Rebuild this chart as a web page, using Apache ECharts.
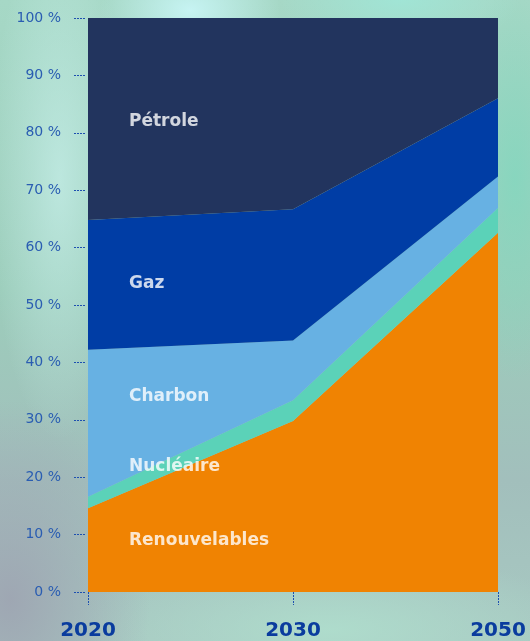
<!DOCTYPE html>
<html>
<head>
<meta charset="utf-8">
<script src="https://cdn.jsdelivr.net/npm/echarts@6/dist/echarts.min.js"></script>
<style>
  html, body { margin: 0; padding: 0; }
  body {
    width: 530px; height: 641px; overflow: hidden;
    background:
      radial-gradient(ellipse 90px 60px at 190px 10px, rgba(200,245,245,0.95), rgba(200,245,245,0) 100%),
      radial-gradient(ellipse 120px 50px at 400px 0px, rgba(160,230,215,0.9), rgba(160,230,215,0) 100%),
      radial-gradient(ellipse 70px 260px at 60px 180px, rgba(200,240,235,0.7), rgba(200,240,235,0) 100%),
      radial-gradient(ellipse 140px 200px at 10px 600px, rgba(158,165,178,0.95), rgba(158,165,178,0) 100%),
      radial-gradient(ellipse 60px 200px at 515px 180px, rgba(130,215,190,0.8), rgba(130,215,190,0) 100%),
      radial-gradient(ellipse 260px 80px at 330px 630px, rgba(175,222,205,0.9), rgba(175,222,205,0) 100%),
      linear-gradient(180deg, #a6d8c6 0%, #9ccdbb 45%, #a2bfbc 75%, #a8c9c2 100%);
  }
  #chart { width: 530px; height: 641px; }
</style>
</head>
<body>
<div id="chart"></div>
<script>
// Energy mix shares (%), stacked from the bottom up
const years = ['2020', '2030', '2050'];
const renouvelables = [14.6, 29.8, 62.6];
const nucleaire = [2.0, 3.6, 4.3];
const charbon = [25.6, 10.4, 5.5];
const gaz = [22.6, 22.9, 13.6];
const petrole = [35.2, 33.3, 14.0];

// Name tags inside each band, anchored at the first year
const bandNames = ['Renouvelables', 'Nucléaire', 'Charbon', 'Gaz', 'Pétrole'];
const bandNameLevels = [9, 21.8, 34, 53.8, 82];

const yTicks = [0, 10, 20, 30, 40, 50, 60, 70, 80, 90, 100];

const font = "'DejaVu Sans', sans-serif";

function band(name, data, color) {
  return {
    name: name,
    type: 'line',
    stack: 'mix',
    data: data,
    symbol: 'none',
    lineStyle: { width: 0 },
    areaStyle: { color: color, opacity: 1 },
    emphasis: { disabled: true },
    z: 2
  };
}

const chart = echarts.init(document.getElementById('chart'), null, { renderer: 'canvas' });

chart.setOption({
  backgroundColor: 'transparent',
  animation: false,
  grid: { left: 88, right: 32, top: 18, bottom: 49, containLabel: false },
  xAxis: {
    type: 'category',
    data: years,
    boundaryGap: false,
    offset: 5,
    axisLine: { show: false },
    axisTick: {
      show: true, length: 13, alignWithLabel: true,
      lineStyle: { color: '#1d4fb0', type: [2, 1], width: 1 }
    },
    axisLabel: {
      margin: 24, color: '#0a3c9e', fontFamily: font, fontWeight: 'bold', fontSize: 20
    },
    splitLine: { show: false }
  },
  yAxis: {
    type: 'value',
    min: 0, max: 100, interval: 10,
    offset: 3,
    axisLine: { show: false },
    axisTick: {
      show: true, length: 11,
      lineStyle: { color: '#1d4fb0', type: [2, 1], width: 1 }
    },
    axisLabel: {
      margin: 24, color: '#2a5db2', fontFamily: font, fontSize: 14,
      customValues: yTicks,
      formatter: v => v + ' %'
    },
    splitLine: { show: false }
  },
  series: [
    band('Renouvelables', renouvelables, '#f08302'),
    band('Nucléaire', nucleaire, '#5bd2b8'),
    band('Charbon', charbon, '#67b1e3'),
    band('Gaz', gaz, '#003da5'),
    band('Pétrole', petrole, '#22345e'),
    {
      name: 'noms',
      type: 'scatter',
      symbolSize: 0,
      silent: true,
      z: 5,
      data: bandNames.map((n, i) => ({ value: [0, bandNameLevels[i]], name: n })),
      label: {
        show: true,
        position: 'right',
        distance: 41,
        formatter: p => p.name,
        color: '#ffffff',
        fontFamily: font,
        fontWeight: 'bold',
        fontSize: 17
      }
    }
  ]
});
</script>
</body>
</html>
